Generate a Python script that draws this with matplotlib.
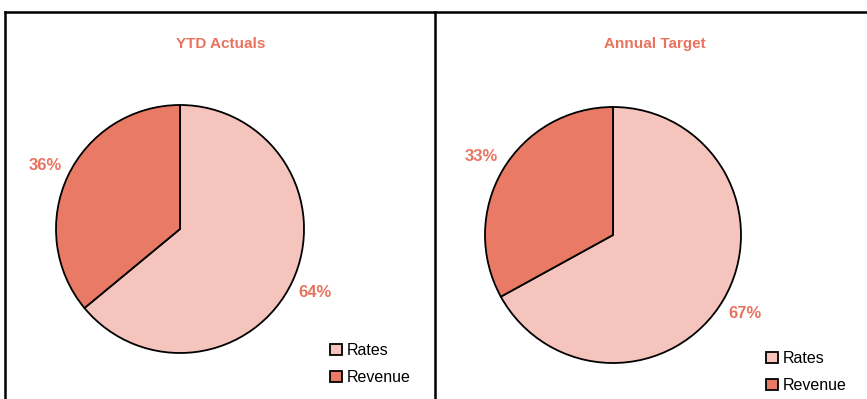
import matplotlib.pyplot as plt
from matplotlib.lines import Line2D

plt.rcParams['font.family'] = ['Liberation Sans', 'DejaVu Sans']

# data
titles = ['YTD Actuals', 'Annual Target']
labels = ['Rates', 'Revenue']
ytd_values = [64, 36]
target_values = [67, 33]

colors = ['#F5C4BC', '#E87A66']
accent = '#E8735F'

W, H = 867, 399
fig = plt.figure(figsize=(W / 100, H / 100), dpi=100)
ax = fig.add_axes([0, 0, 1, 1])
ax.set_xlim(0, W)
ax.set_ylim(0, H)
ax.set_aspect('equal')
ax.axis('off')

# panels: (values, pie center x, center y from top, radius, title x, legend x, legend top)
panels = [
    (ytd_values, 180, 229, 124, 221, 330, 343),
    (target_values, 613, 235, 128, 655, 766, 351),
]

for i, (vals, cx, cy, r, tx, lx, ly) in enumerate(panels):
    wedges, texts, autotexts = ax.pie(
        vals, colors=colors, startangle=90, counterclock=False,
        center=(cx, H - cy), radius=r, autopct='%d%%', pctdistance=1.2,
        wedgeprops=dict(edgecolor='black', linewidth=1.3),
        textprops=dict(color=accent, fontsize=12, fontweight='bold'))
    ax.text(tx, H - 44, titles[i], ha='center', va='center',
            color=accent, fontsize=11, fontweight='bold')
    fig.legend(wedges, labels, loc='upper left',
               bbox_to_anchor=(lx / W, 1 - ly / H),
               frameon=False, fontsize=11.5, borderpad=0, borderaxespad=0,
               handlelength=0.72, handleheight=0.72, handletextpad=0.3,
               labelspacing=0.75)

ax.set_xlim(0, W)
ax.set_ylim(0, H)

# panel borders
for xs, ys in [((5, W), (12, 12)), ((5, 5), (12, H)), ((435, 435), (12, H))]:
    fig.add_artist(Line2D([x / W for x in xs], [1 - y / H for y in ys],
                          color='black', linewidth=1.8, transform=fig.transFigure))

fig.savefig('out.png', dpi=100)
